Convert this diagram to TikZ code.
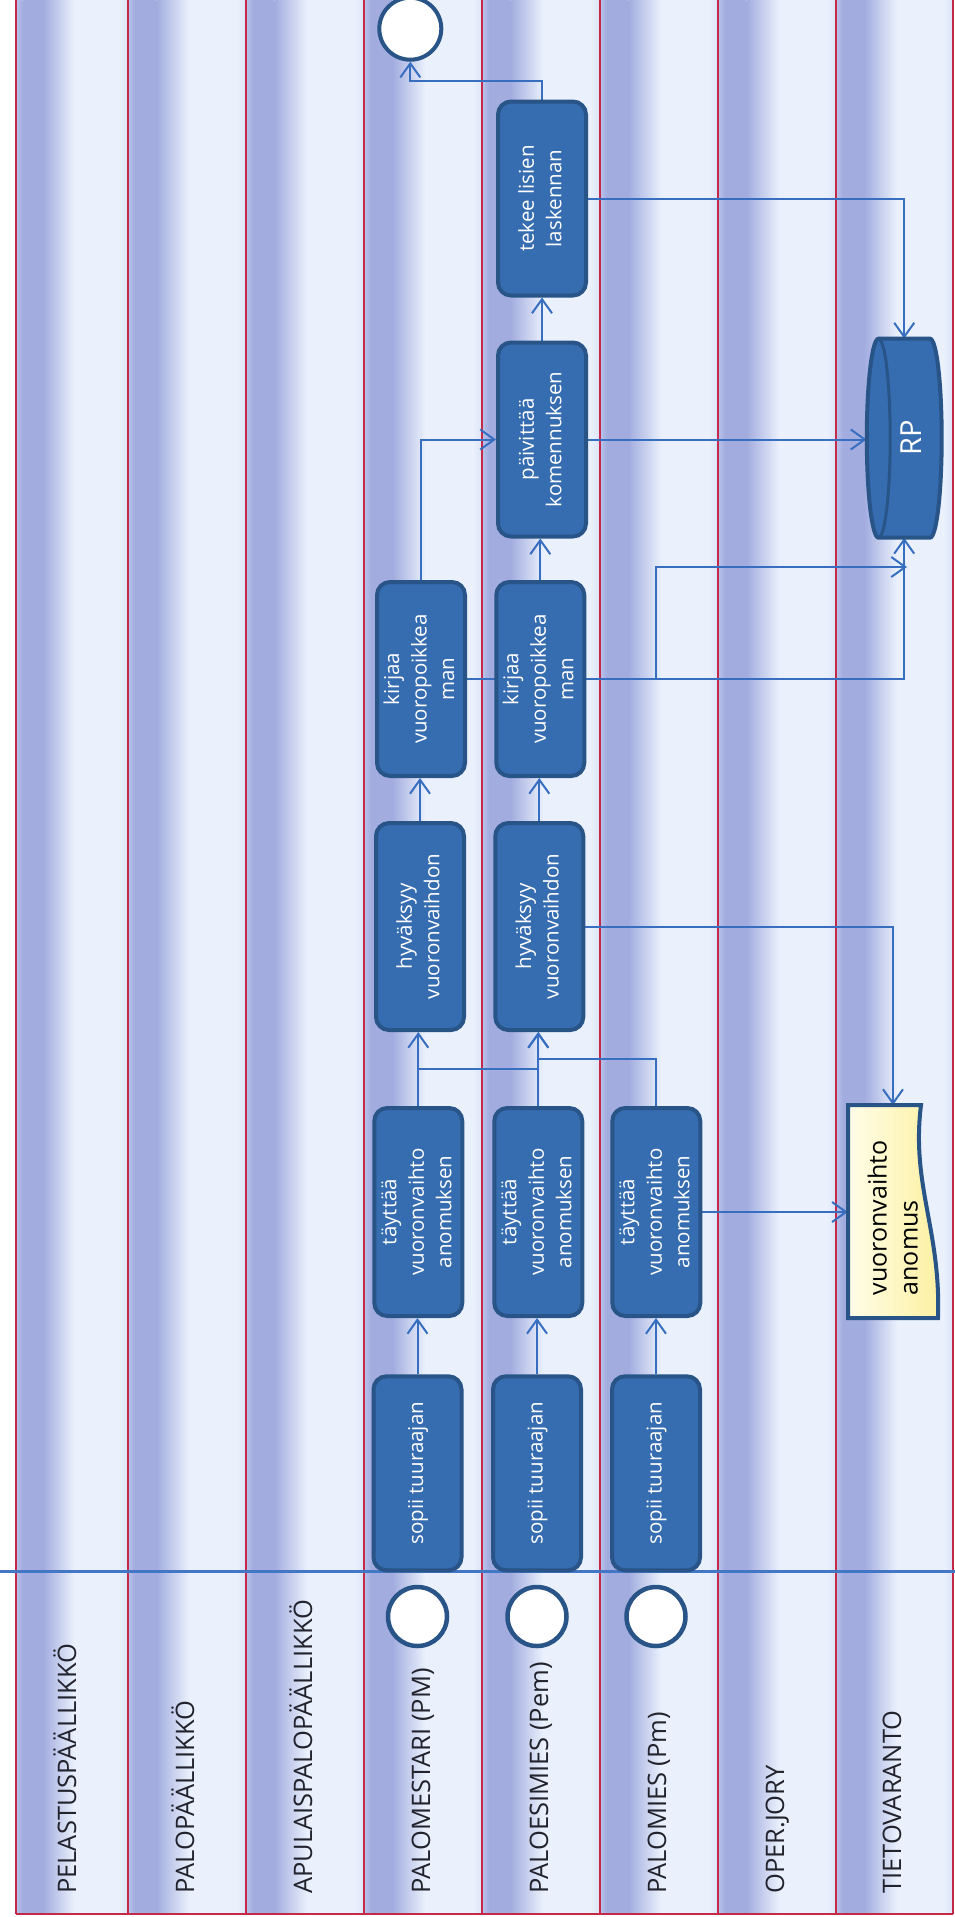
\documentclass[tikz,border=0pt]{standalone}
\usepackage{fontspec}
\setmainfont{Open Sans}
\usepackage{graphicx}
\usetikzlibrary{arrows.meta,calc}

\definecolor{lanedark}{RGB}{162,172,223}
\definecolor{lanelight}{RGB}{234,241,252}
\definecolor{laneedge}{RGB}{185,195,234}
\definecolor{laneend}{RGB}{220,228,248}
\definecolor{lanered}{RGB}{196,42,72}
\definecolor{boxfill}{RGB}{54,108,176}
\definecolor{boxedge}{RGB}{40,84,136}
\definecolor{flowc}{RGB}{56,110,192}
\definecolor{sepblue}{RGB}{68,118,198}
\definecolor{docleft}{RGB}{255,253,232}
\definecolor{docright}{RGB}{252,240,160}
\definecolor{labelc}{RGB}{35,35,45}

\pgfdeclarelayer{lanes}
\pgfdeclarelayer{edges}
\pgfsetlayers{lanes,edges,main}

% vertical multi-line text for the process boxes
\newcommand{\uprot}[1]{\rotatebox{90}{\begin{tabular}{@{}c@{}}#1\end{tabular}}}
\newcommand{\uprotl}[1]{\rotatebox{90}{\begin{tabular}{@{}l@{}}#1\end{tabular}}}

% one swimlane: broad soft dark band on the left, light towards the right
\newcommand{\lanefill}[2]{%
  \pgfmathsetmacro{\lw}{#2-#1}%
  \shade[left color=laneedge, right color=lanedark]
    (#1,0) rectangle ({#1+0.06*\lw},1914);
  \fill[lanedark] ({#1+0.06*\lw},0) rectangle ({#1+0.24*\lw},1914);
  \shade[left color=lanedark, right color=lanelight]
    ({#1+0.24*\lw},0) rectangle ({#1+0.52*\lw},1914);
  \fill[lanelight] ({#1+0.52*\lw},0) rectangle ({#1+0.92*\lw},1914);
  \shade[left color=lanelight, right color=laneend]
    ({#1+0.92*\lw},0) rectangle (#2,1914);}

\begin{document}
\begin{tikzpicture}[x=1pt,y=-1pt,
  redline/.style={draw=lanered, line width=2.4pt},
  lanelabel/.style={rotate=90, anchor=base west, inner sep=0pt, text=labelc,
    font=\fontsize{25.5}{30}\selectfont},
  proc/.style={draw=boxedge, line width=4pt, fill=boxfill, rounded corners=13pt,
    minimum width=88pt, minimum height=194pt, inner sep=0pt, text=white,
    font=\fontsize{20.5}{27.5}\selectfont},
  tallproc/.style={proc, minimum height=208pt},
  startend/.style={circle, draw=boxedge, line width=4.5pt, fill=white,
    minimum size=59pt, inner sep=0pt},
  flow/.style={draw=flowc, line width=2pt,
    -{Straight Barb[length=14pt,width=20pt]}},
  plain/.style={draw=flowc, line width=2pt},
  sep/.style={draw=sepblue, line width=2.5pt}]

\useasboundingbox (0,0) rectangle (955,1917);

% ---------- swimlanes ----------
\begin{pgfonlayer}{lanes}
  \fill[white] (0,0) rectangle (955,1917);
  \foreach \a/\b in {16/128,128/246,246/364,364/482,482/600,600/718,718/836,836/953}
    {\lanefill{\a}{\b}}
  \foreach \a in {16,128,246,364,482,600,718,836,953}
    \draw[redline] (\a,0) -- (\a,1914);
  \draw[redline] (16,1914) -- (953,1914);
\end{pgfonlayer}

% lane titles
\foreach \r/\t [count=\i] in {128/PELASTUSPÄÄLLIKKÖ, 246/PALOPÄÄLLIKKÖ,
    364/APULAISPALOPÄÄLLIKKÖ, 482/{PALOMESTARI (PM)}, 600/{PALOESIMIES (Pem)},
    718/{PALOMIES (Pm)}, 836/OPER.JORY, 953/TIETOVARANTO}
  \node[lanelabel] (lane\i) at (\r-52,1894) {\t};

% ---------- start / end events ----------
\node[startend] (s1) at (417.5,1616.5) {};
\node[startend] (s2) at (537,1616.5) {};
\node[startend] (s3) at (656,1616.5) {};
\node[startend, minimum size=62pt, line width=4pt] (finish) at (410.3,28.7) {};

% ---------- process boxes ----------
\node[proc] (sA) at (417.5,1473.3) {\uprot{sopii tuuraajan}};
\node[proc] (sB) at (537,1473.3) {\uprot{sopii tuuraajan}};
\node[proc] (sC) at (656,1473.3) {\uprot{sopii tuuraajan}};

\node[tallproc] (tA) at (418.3,1212) {\uprot{täyttää\\vuoronvaihto\\anomuksen}};
\node[tallproc] (tB) at (538.3,1212) {\uprot{täyttää\\vuoronvaihto\\anomuksen}};
\node[tallproc] (tC) at (656.3,1212) {\uprot{täyttää\\vuoronvaihto\\anomuksen}};

\node[tallproc, minimum height=207pt] (hA) at (420,926.5) {\uprot{hyväksyy\\vuoronvaihdon}};
\node[tallproc, minimum height=207pt] (hB) at (539.3,926.5) {\uprot{hyväksyy\\vuoronvaihdon}};

\node[proc] (kA) at (421,679) {\uprot{kirjaa\\vuoropoikkea\\man}};
\node[proc] (kB) at (540.3,679) {\uprot{kirjaa\\vuoropoikkea\\man}};

\node[proc] (pk) at (542,439.5) {\uprot{päivittää\\komennuksen}};
\node[proc] (tl) at (542,198.5) {\uprot{tekee lisien\\laskennan}};

% ---------- data store RP (cylinder) ----------
\path[draw=boxedge, line width=4pt, fill=boxfill]
  (878.5,338.7) -- (930,338.7)
  arc[start angle=-90, end angle=90, x radius=11.7, y radius=99.5]
  -- (878.5,537.7)
  arc[start angle=90, end angle=270, x radius=11.7, y radius=99.5] -- cycle;
\draw[boxedge, line width=3pt] (878.5,338.7)
  arc[start angle=-90, end angle=90, x radius=11.7, y radius=99.5];
\node[inner sep=0pt, minimum width=75pt, minimum height=199pt, text=white,
  font=\fontsize{29}{34}\selectfont] (rp) at (904.2,438.2)
  {\hspace*{14pt}\rotatebox{90}{RP}};

% ---------- document: vuoronvaihto anomus ----------
\path[draw=boxedge, line width=4pt, left color=docleft, right color=docright]
  (848,1105) -- (921,1105) .. controls (911,1185) and (941,1230) .. (938,1318)
  -- (848,1318) -- cycle;
\node[inner sep=0pt, minimum width=90pt, minimum height=213pt] (doc) at (893,1211.7) {};
\node[inner sep=0pt, text=black, font=\fontsize{25}{31}\selectfont] (doctext)
  at (896,1217.7) {\uprotl{vuoronvaihto\\anomus}};

% ---------- connectors ----------
\coordinate (j1) at (0,1069.3);
\coordinate (j2) at (0,1059.3);
\coordinate (j3) at (0,81);
\coordinate (j4) at (0,567);
\coordinate (rpin) at (907,567);

\begin{pgfonlayer}{edges}
  \draw[sep] (0,1571.7) -- (955,1571.7);

  \draw[flow] (sA.north) -- (sA.north |- tA.south);
  \draw[flow] (sB.north) -- (sB.north |- tB.south);
  \draw[flow] (sC.north) -- (sC.north |- tC.south);

  \draw[flow] (tA.north) -- (tA.north |- hA.south);
  \draw[flow] (tB.north) -- (tB.north |- hB.south);
  \draw[plain] (tB.north) -- (tB.north |- j1) -- (tA.north |- j1);
  \draw[flow] (tC.north) -- (tC.north |- j2) -- (tB.north |- j2) -- (tB.north |- hB.south);
  \draw[flow] (tC.east) -- (tC.east -| doc.west);

  \draw[flow] (hA.north) -- (hA.north |- kA.south);
  \draw[flow] (hB.north) -- (hB.north |- kB.south);
  \draw[flow] (hB.east) -- (doc.north |- hB.east) -- (doc.north);

  \draw[flow] (kA.north) -- (kA.north |- pk.west) -- (pk.west);
  \draw[flow] (kB.north) -- (kB.north |- pk.south);
  \draw[flow] (kB.east) -- (rp.south |- kB.east) -- (rp.south);
  \draw[flow] (kA.east) -- (kA.east -| tC.north) -- (tC.north |- j4) -- (rpin);

  \draw[flow] (pk.north) -- (pk.north |- tl.south);
  \draw[flow] (pk.east) -- (pk.east -| rp.west);

  \draw[flow] (tl.east) -- (rp.north |- tl.east) -- (rp.north);
  \draw[flow] (tl.north) -- (tl.north |- j3) -- (finish.south |- j3) -- (finish.south);
\end{pgfonlayer}
\end{tikzpicture}
\end{document}
